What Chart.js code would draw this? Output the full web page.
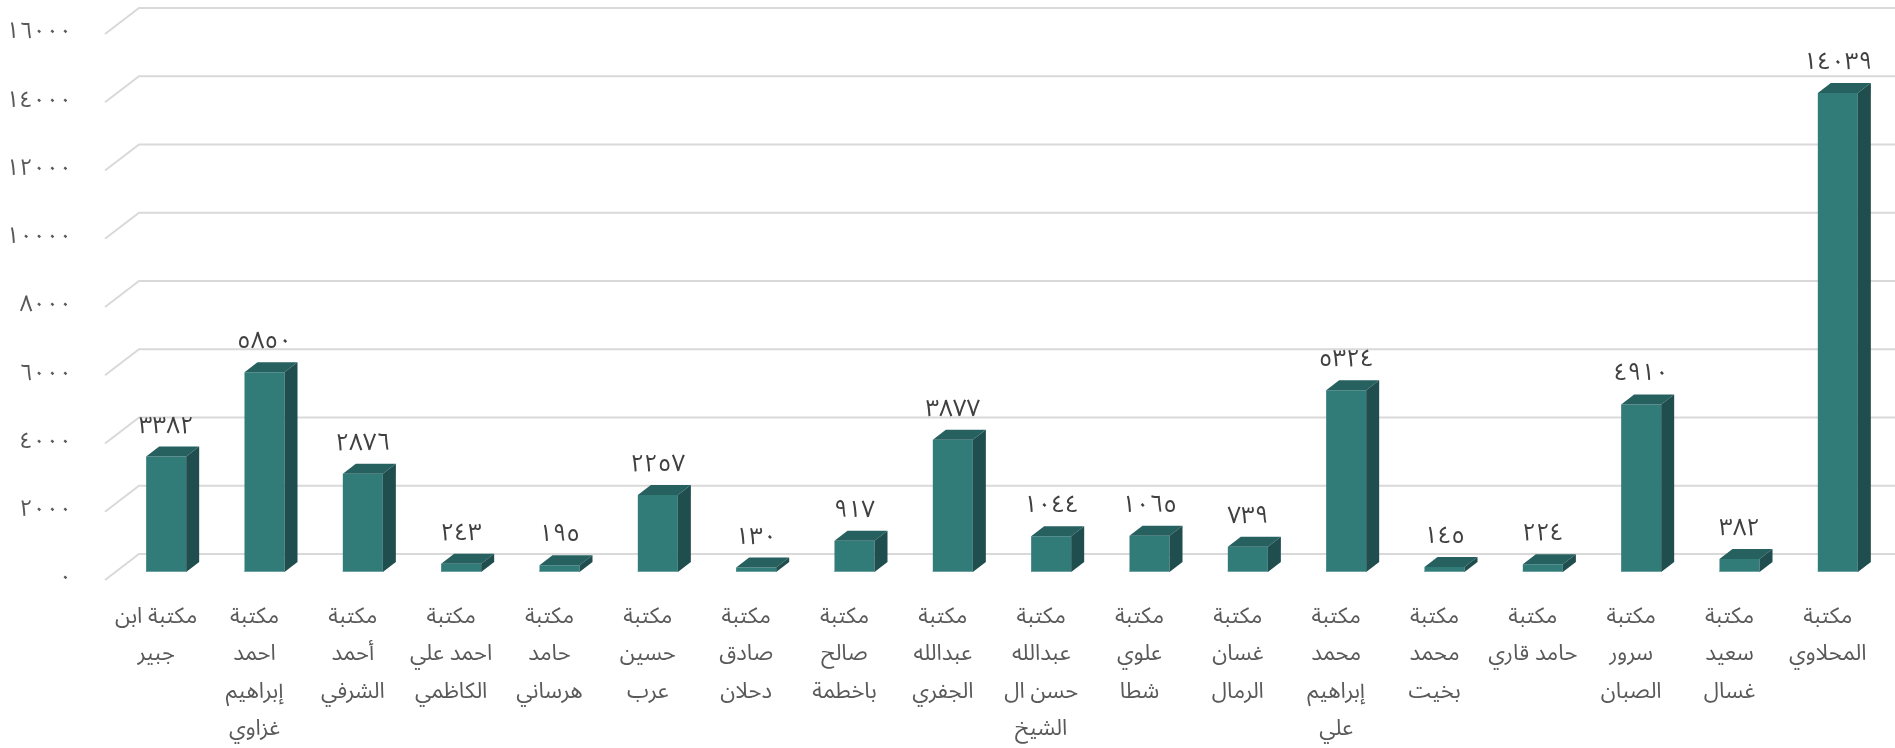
<!DOCTYPE html>
<html lang="ar">
<head>
<meta charset="utf-8">
<title>عدد الكتب في المكتبات</title>
<script src="https://cdn.jsdelivr.net/npm/chart.js@4.4.1/dist/chart.umd.min.js"></script>
<style>
  html, body { margin: 0; padding: 0; background: #ffffff; }
  #wrap { width: 1895px; height: 748px; }
</style>
</head>
<body>
<div id="wrap"><canvas id="chart" width="1895" height="748"></canvas></div>
<script>
// Library names, one array entry per wrapped line of the axis label
const categories = [
  ['مكتبة ابن', 'جبير'],
  ['مكتبة', 'احمد', 'إبراهيم', 'غزاوي'],
  ['مكتبة', 'أحمد', 'الشرفي'],
  ['مكتبة', 'احمد علي', 'الكاظمي'],
  ['مكتبة', 'حامد', 'هرساني'],
  ['مكتبة', 'حسين', 'عرب'],
  ['مكتبة', 'صادق', 'دحلان'],
  ['مكتبة', 'صالح', 'باخطمة'],
  ['مكتبة', 'عبدالله', 'الجفري'],
  ['مكتبة', 'عبدالله', 'حسن ال', 'الشيخ'],
  ['مكتبة', 'علوي', 'شطا'],
  ['مكتبة', 'غسان', 'الرمال'],
  ['مكتبة', 'محمد', 'إبراهيم', 'علي'],
  ['مكتبة', 'محمد', 'بخيت'],
  ['مكتبة', 'حامد قاري'],
  ['مكتبة', 'سرور', 'الصبان'],
  ['مكتبة', 'سعيد', 'غسال'],
  ['مكتبة', 'المحلاوي']
];

// Number of books held by each library
const bookCounts = [3382, 5850, 2876, 243, 195, 2257, 130, 917, 3877, 1044, 1065, 739, 5324, 145, 224, 4910, 382, 14039];

// Value axis ticks
const yTicks = [0, 2000, 4000, 6000, 8000, 10000, 12000, 14000, 16000];

const ARABIC_DIGITS = '٠١٢٣٤٥٦٧٨٩';
const toArabicDigits = n => String(n).replace(/\d/g, d => ARABIC_DIGITS[+d]);

const FONT = '"Noto Sans Arabic", "DejaVu Sans", "Noto Sans", sans-serif';
const COLORS = {
  front: '#317b79',
  top: '#266160',
  side: '#204d4d',
  edge: '#6fa3a1',
  grid: '#d9d9d9',
  label: '#404040',
  axis: '#595959'
};
const DEPTH_X = 13;   // horizontal extrusion of each bar
const DEPTH_Y = -10;  // vertical extrusion of each bar

// Floor/back-wall gridlines with a perspective step on the left side
const perspectiveGrid = {
  id: 'perspectiveGrid',
  beforeDatasetsDraw(chart) {
    const { ctx, chartArea, scales: { y } } = chart;
    ctx.save();
    ctx.strokeStyle = COLORS.grid;
    ctx.lineWidth = 2;
    y.ticks.forEach(t => {
      const py = y.getPixelForValue(t.value);
      const frontX = chartArea.left - 12, frontY = py + 8;
      const backX = chartArea.left + 22, backY = py - 18;
      ctx.beginPath();
      ctx.moveTo(frontX, frontY);
      ctx.lineTo(backX, backY);
      ctx.lineTo(chart.width, backY);
      ctx.stroke();
    });
    ctx.restore();
  }
};

// Top and side faces of each bar plus the value label above it
const bars3d = {
  id: 'bars3d',
  afterDatasetsDraw(chart) {
    const { ctx } = chart;
    const meta = chart.getDatasetMeta(0);
    const values = chart.data.datasets[0].data;
    ctx.save();
    meta.data.forEach((bar, i) => {
      const { x, y, base, width } = bar.getProps(['x', 'y', 'base', 'width'], true);
      const l = x - width / 2, r = x + width / 2;
      // thin highlight along the foot of the front face
      ctx.fillStyle = COLORS.edge;
      ctx.fillRect(l, base - 1, width, 1);
      // top face
      ctx.fillStyle = COLORS.top;
      ctx.beginPath();
      ctx.moveTo(l, y);
      ctx.lineTo(r, y);
      ctx.lineTo(r + DEPTH_X, y + DEPTH_Y);
      ctx.lineTo(l + DEPTH_X, y + DEPTH_Y);
      ctx.closePath();
      ctx.fill();
      // side face
      ctx.fillStyle = COLORS.side;
      ctx.beginPath();
      ctx.moveTo(r, y);
      ctx.lineTo(r + DEPTH_X, y + DEPTH_Y);
      ctx.lineTo(r + DEPTH_X, base + DEPTH_Y);
      ctx.lineTo(r, base);
      ctx.closePath();
      ctx.fill();
      // value label
      ctx.fillStyle = COLORS.label;
      ctx.font = '24px ' + FONT;
      ctx.textAlign = 'center';
      ctx.textBaseline = 'alphabetic';
      ctx.fillText(toArabicDigits(values[i]), x, y - 24);
    });
    ctx.restore();
  }
};

new Chart(document.getElementById('chart'), {
  type: 'bar',
  data: {
    labels: categories,
    datasets: [{
      data: bookCounts,
      backgroundColor: COLORS.front,
      borderWidth: 0,
      categoryPercentage: 1,
      barPercentage: 0.407
    }]
  },
  options: {
    responsive: false,
    animation: false,
    devicePixelRatio: 1,
    layout: { padding: { top: 26, right: 8, left: 0, bottom: 0 } },
    plugins: { legend: { display: false }, tooltip: { enabled: false } },
    scales: {
      x: {
        grid: { display: false, drawTicks: false },
        border: { display: false },
        ticks: {
          color: COLORS.axis,
          font: { family: FONT, size: 22, lineHeight: 1.7 },
          padding: 29,
          labelOffset: -10,
          maxRotation: 0,
          autoSkip: false
        },
        afterFit(scale) {
          scale.height = 176;
          scale.paddingLeft = 0;
          scale.paddingRight = 0;
        }
      },
      y: {
        min: 0,
        max: 16000,
        afterBuildTicks(scale) { scale.ticks = yTicks.map(v => ({ value: v })); },
        grid: { display: false, drawTicks: false },
        border: { display: false },
        ticks: {
          color: COLORS.axis,
          font: { family: FONT, size: 23 },
          padding: 45,
          labelOffset: 9,
          callback: v => toArabicDigits(v)
        },
        afterFit(scale) {
          scale.width = 117;
          scale.paddingTop = 0;
          scale.paddingBottom = 0;
        }
      }
    }
  },
  plugins: [perspectiveGrid, bars3d]
});
</script>
</body>
</html>
